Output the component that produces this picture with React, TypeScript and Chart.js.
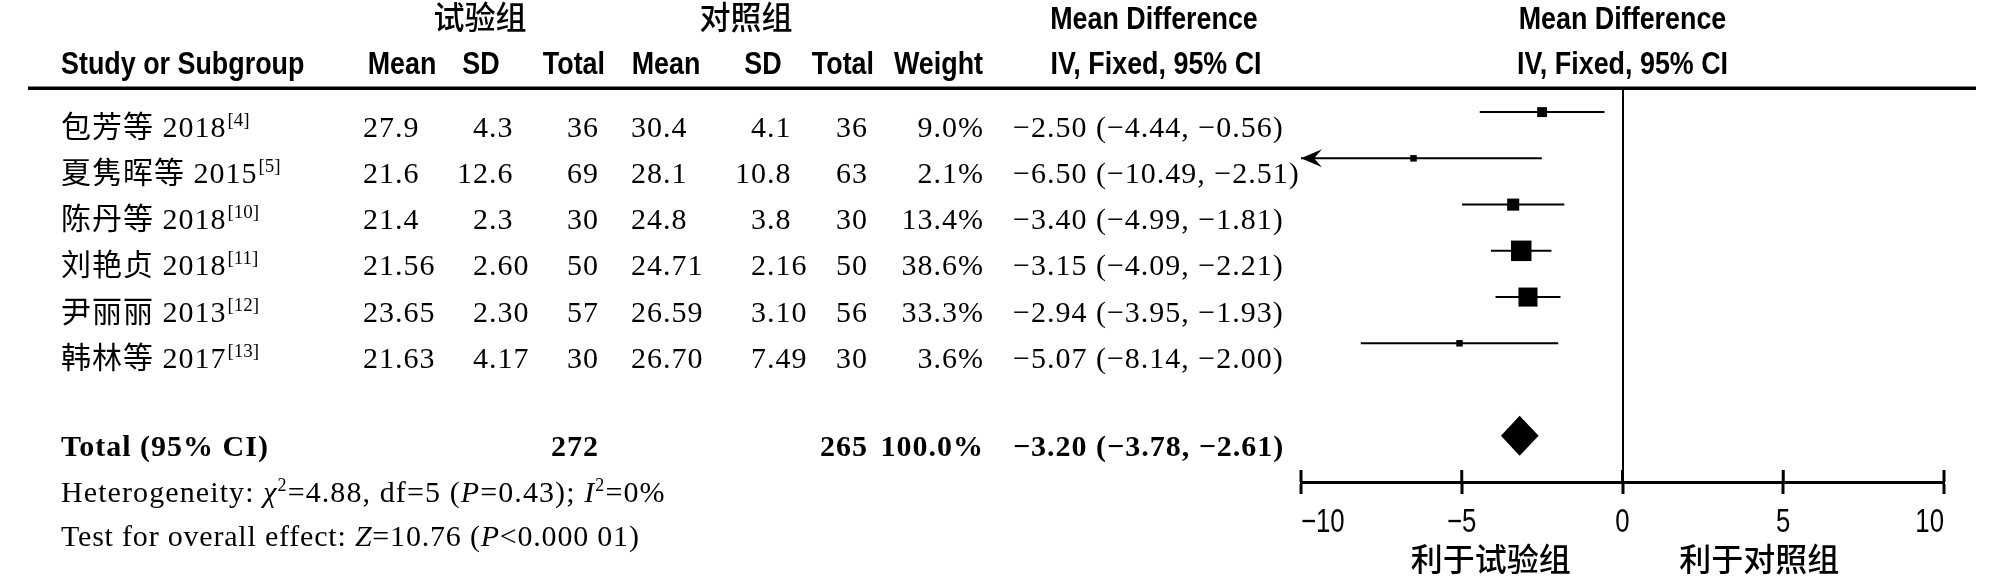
import React, { useEffect, useRef } from 'react';
import { Chart, registerables } from 'chart.js';

Chart.register(...registerables);

// ---------- data ----------
const studyNames = ['包芳等 2018', '夏隽晖等 2015', '陈丹等 2018', '刘艳贞 2018', '尹丽丽 2013', '韩林等 2017'];
const studyRefs = ['[4]', '[5]', '[10]', '[11]', '[12]', '[13]'];
const expMean = ['27.9', '21.6', '21.4', '21.56', '23.65', '21.63'];
const expSD = ['4.3', '12.6', '2.3', '2.60', '2.30', '4.17'];
const expTotal = [36, 69, 30, 50, 57, 30];
const ctlMean = ['30.4', '28.1', '24.8', '24.71', '26.59', '26.70'];
const ctlSD = ['4.1', '10.8', '3.8', '2.16', '3.10', '7.49'];
const ctlTotal = [36, 63, 30, 50, 56, 30];
const weights = [9.0, 2.1, 13.4, 38.6, 33.3, 3.6];
const meanDiff = [-2.5, -6.5, -3.4, -3.15, -2.94, -5.07];
const ciLower = [-4.44, -10.49, -4.99, -4.09, -3.95, -8.14];
const ciUpper = [-0.56, -2.51, -1.81, -2.21, -1.93, -2.0];

const totalLabel = 'Total (95% CI)';
const totalExp = 272;
const totalCtl = 265;
const totalWeight = 100.0;
const totalMD = -3.2;
const totalLower = -3.78;
const totalUpper = -2.61;

const heterogeneityRuns: [string, string][] = [
  ['n', 'Heterogeneity: '], ['i', 'χ'], ['sup', '2'], ['n', '=4.88, df=5 ('], ['i', 'P'],
  ['n', '=0.43); '], ['i', 'I'], ['sup', '2'], ['n', '=0%'],
];
const overallRuns: [string, string][] = [
  ['n', 'Test for overall effect: '], ['i', 'Z'], ['n', '=10.76 ('], ['i', 'P'], ['n', '<0.000 01)'],
];

const groupHeaders = ['试验组', '对照组'];
const columnHeaders = ['Study or Subgroup', 'Mean', 'SD', 'Total', 'Mean', 'SD', 'Total', 'Weight'];
const mdHeader = ['Mean Difference', 'IV, Fixed, 95% CI'];
const favourLabels = ['利于试验组', '利于对照组'];
const xMin = -10;
const xMax = 10;
const xStep = 5;

// ---------- styling ----------
const SERIF = "'Liberation Serif', 'Noto Sans CJK SC', serif";
const SANS = "'Liberation Sans', Arial, sans-serif";
const CJK = "'Noto Sans CJK SC', sans-serif";
const FS = 30;

const minus = (s: string) => s.replace(/-/g, '\u2212');
const fmt = (v: number) => minus(v.toFixed(2));

function cond(ctx: CanvasRenderingContext2D, t: string, x: number, y: number, align: string, font: string, sx = 0.84) {
  ctx.save();
  ctx.font = font;
  (ctx as any).letterSpacing = '0px';
  const w = ctx.measureText(t).width * sx;
  const left = align === 'left' ? x : align === 'right' ? x - w : x - w / 2;
  ctx.translate(left, y);
  ctx.scale(sx, 1);
  ctx.textAlign = 'left';
  ctx.fillText(t, 0, 0);
  ctx.restore();
}

function serif(ctx: CanvasRenderingContext2D, t: string, x: number, y: number, align: CanvasTextAlign, bold = false) {
  ctx.font = `${bold ? 'bold ' : ''}${FS}px ${SERIF}`;
  (ctx as any).letterSpacing = '1px';
  ctx.textAlign = align;
  ctx.fillText(t, x, y);
}

function decimal(ctx: CanvasRenderingContext2D, t: string, d: number, y: number) {
  const k = t.indexOf('.');
  const ip = k >= 0 ? t.slice(0, k) : t;
  const fp = k >= 0 ? t.slice(k) : '';
  serif(ctx, ip, d, y, 'right');
  serif(ctx, fp, d, y, 'left');
}

function runs(ctx: CanvasRenderingContext2D, parts: [string, string][], x: number, y: number, ls: number) {
  ctx.textAlign = 'left';
  for (const [st, t] of parts) {
    let dy = 0;
    if (st === 'sup') {
      ctx.font = `${Math.round(FS * 0.6)}px ${SERIF}`;
      dy = -FS * 0.36;
    } else if (st === 'i') ctx.font = `italic ${FS}px ${SERIF}`;
    else if (st === 'b') ctx.font = `bold ${FS}px ${SERIF}`;
    else ctx.font = `${FS}px ${SERIF}`;
    (ctx as any).letterSpacing = `${ls}px`;
    ctx.fillText(t, x, y + dy);
    x += ctx.measureText(t).width;
  }
}

const tablePlugin = {
  id: 'forestTable',
  afterDraw(chart: any) {
    const ctx: CanvasRenderingContext2D = chart.ctx;
    const xs = chart.scales.x;
    const ys = chart.scales.y;
    ctx.save();
    ctx.fillStyle = '#000';
    ctx.strokeStyle = '#000';
    ctx.textBaseline = 'alphabetic';

    // header rule
    ctx.lineWidth = 3.5;
    ctx.beginPath();
    ctx.moveTo(28, 88.3);
    ctx.lineTo(1976, 88.3);
    ctx.stroke();

    // headers
    const hb = `bold 32px ${SANS}`;
    const cjkH = `500 32px ${CJK}`;
    cond(ctx, groupHeaders[0], 480, 29, 'center', cjkH, 0.97);
    cond(ctx, groupHeaders[1], 746, 29, 'center', cjkH, 0.97);
    const plotMid = (xs.left + xs.right) / 2;
    cond(ctx, mdHeader[0], 1154, 29, 'center', hb);
    cond(ctx, mdHeader[0], plotMid, 29, 'center', hb);
    cond(ctx, mdHeader[1], 1156, 74, 'center', hb);
    cond(ctx, mdHeader[1], plotMid, 74, 'center', hb);
    const hx: [number, string][] = [
      [61, 'left'], [402, 'center'], [481, 'center'], [605, 'right'],
      [666, 'center'], [763, 'center'], [874, 'right'], [983, 'right'],
    ];
    columnHeaders.forEach((h, i) => cond(ctx, h, hx[i][0], 74, hx[i][1], hb));

    // study rows
    studyNames.forEach((name, i) => {
      const y = ys.getPixelForValue(i) + 24.5;
      ctx.font = `${FS}px ${SERIF}`;
      (ctx as any).letterSpacing = '1px';
      ctx.textAlign = 'left';
      ctx.fillText(name, 61, y);
      const w = ctx.measureText(name).width;
      ctx.font = `19px ${SERIF}`;
      (ctx as any).letterSpacing = '0px';
      ctx.fillText(studyRefs[i], 61 + w + 1, y - 11);
      decimal(ctx, expMean[i], 395, y);
      decimal(ctx, expSD[i], 489, y);
      serif(ctx, String(expTotal[i]), 599, y, 'right');
      decimal(ctx, ctlMean[i], 663, y);
      decimal(ctx, ctlSD[i], 767, y);
      serif(ctx, String(ctlTotal[i]), 868, y, 'right');
      serif(ctx, weights[i].toFixed(1) + '%', 984, y, 'right');
      serif(ctx, `${fmt(meanDiff[i])} (${fmt(ciLower[i])}, ${fmt(ciUpper[i])})`, 1013, y, 'left');

      // arrow for truncated CI
      const py = ys.getPixelForValue(i);
      if (ciLower[i] < xs.min) {
        const tx = xs.getPixelForValue(xs.min);
        ctx.beginPath();
        ctx.moveTo(tx, py);
        ctx.lineTo(tx + 21, py - 9);
        ctx.lineTo(tx + 13, py);
        ctx.lineTo(tx + 21, py + 9);
        ctx.closePath();
        ctx.fill();
      }
      if (ciUpper[i] > xs.max) {
        const tx = xs.getPixelForValue(xs.max);
        ctx.beginPath();
        ctx.moveTo(tx, py);
        ctx.lineTo(tx - 21, py - 9);
        ctx.lineTo(tx - 13, py);
        ctx.lineTo(tx - 21, py + 9);
        ctx.closePath();
        ctx.fill();
      }
    });

    // total row
    const ty = ys.getPixelForValue(7);
    const tb = ty + 20;
    serif(ctx, totalLabel, 61, tb, 'left', true);
    serif(ctx, String(totalExp), 599, tb, 'right', true);
    serif(ctx, String(totalCtl), 868, tb, 'right', true);
    serif(ctx, totalWeight.toFixed(1) + '%', 984, tb, 'right', true);
    serif(ctx, `${fmt(totalMD)} (${fmt(totalLower)}, ${fmt(totalUpper)})`, 1013, tb, 'left', true);

    // diamond
    ctx.beginPath();
    ctx.moveTo(xs.getPixelForValue(totalLower), ty);
    ctx.lineTo(xs.getPixelForValue(totalMD), ty - 20);
    ctx.lineTo(xs.getPixelForValue(totalUpper), ty);
    ctx.lineTo(xs.getPixelForValue(totalMD), ty + 20);
    ctx.closePath();
    ctx.fill();

    // footers
    runs(ctx, heterogeneityRuns, 61, ty + 66, 1.1);
    runs(ctx, overallRuns, 61, ty + 110, 0.8);

    // upper half of tick marks + condensed tick labels
    const axisY = xs.top;
    ctx.lineWidth = 3;
    const n = xs.ticks.length;
    xs.ticks.forEach((t: any, k: number) => {
      const px = xs.getPixelForValue(t.value);
      ctx.beginPath();
      ctx.moveTo(px, axisY - 12);
      ctx.lineTo(px, axisY);
      ctx.stroke();
      const label = minus(String(t.value));
      const al = k === 0 ? 'left' : k === n - 1 ? 'right' : 'center';
      ctx.textBaseline = 'alphabetic';
      cond(ctx, label, px, axisY + 50, al, `33px ${SANS}`, 0.78);
    });

    // favour labels
    ctx.textBaseline = 'alphabetic';
    cond(ctx, favourLabels[0], xs.getPixelForValue(-4.1), 571, 'center', `500 32px ${CJK}`, 1);
    cond(ctx, favourLabels[1], xs.getPixelForValue(4.25), 571, 'center', `500 32px ${CJK}`, 1);
    ctx.restore();
  },
};

export default function App() {
  const ref = useRef<HTMLCanvasElement>(null);
  useEffect(() => {
    const canvas = ref.current!;
    const squareSide = weights.map((w) => Math.max(6.5, 3.3 * Math.sqrt(w)));
    const datasets: any[] = [
      {
        label: 'Mean difference',
        data: meanDiff.map((m, i) => ({ x: m, y: i })),
        pointStyle: 'rect',
        pointRadius: squareSide.map((s) => s / Math.SQRT2),
        backgroundColor: '#000',
        borderColor: '#000',
        borderWidth: 0,
        showLine: false,
      },
      ...meanDiff.map((_, i) => ({
        label: 'CI ' + i,
        data: [{ x: ciLower[i], y: i }, { x: ciUpper[i], y: i }],
        showLine: true,
        pointRadius: 0,
        borderColor: '#000',
        borderWidth: 2,
      })),
    ];
    const chart = new Chart(canvas, {
      type: 'scatter',
      data: { datasets },
      options: {
        animation: false,
        responsive: false,
        events: [],
        layout: { padding: { left: 1301, right: 64, top: 89, bottom: 0 } },
        plugins: { legend: { display: false }, tooltip: { enabled: false } },
        scales: {
          x: {
            type: 'linear',
            position: 'bottom',
            min: xMin,
            max: xMax,
            ticks: {
              stepSize: xStep,
              display: false,
              callback: (v: any) => minus(String(v)),
            },
            grid: {
              drawOnChartArea: true,
              color: (c: any) => (c.tick && c.tick.value === 0 ? '#000' : 'rgba(0,0,0,0)'),
              lineWidth: 2,
              tickLength: 12,
              tickColor: '#000',
              tickWidth: 3,
            },
            border: { display: true, color: '#000', width: 3 },
            afterFit: (s: any) => {
              s.height = 97;
            },
          },
          y: { type: 'linear', reverse: true, min: -0.5, max: 8, display: false },
        },
      },
      plugins: [tablePlugin],
    } as any);
    return () => chart.destroy();
  }, []);
  return (
    <div style={{ position: 'absolute', left: 0, top: 0, width: 2008, height: 579, background: '#fff' }}>
      <canvas ref={ref} width={2008} height={579} style={{ display: 'block', width: 2008, height: 579 }} />
    </div>
  );
}
